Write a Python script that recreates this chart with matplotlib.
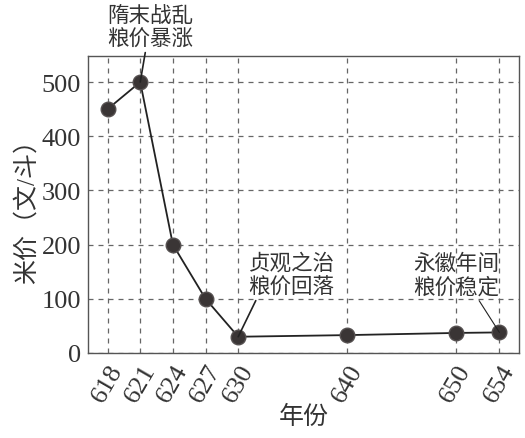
import matplotlib
matplotlib.use('Agg')
from matplotlib import pyplot as plt

years = [618, 621, 624, 627, 630, 640, 650, 654]
prices = [450, 500, 200, 100, 30, 33, 37, 38]
yticks = [0, 100, 200, 300, 400, 500]

plt.rcParams['font.family'] = ['Liberation Serif', 'Noto Sans CJK SC']

fig = plt.figure(figsize=(5.25, 4.39), dpi=100)
ax = fig.add_axes([88 / 525, 1 - 354 / 439, (519 - 88) / 525, (354 - 57) / 439])

ax.plot(years, prices, color='#222222', lw=1.3, marker='o', ms=10.5,
        markerfacecolor='#3a3535', markeredgecolor='#555050', zorder=3)

ax.set_xlim(616.2, 655.8)
ax.set_ylim(0, 548)
ax.set_xticks(years)
ax.set_xticklabels([str(y) for y in years], rotation=60, fontsize=19,
                   color='#333333')
ax.set_yticks(yticks)
ax.set_yticklabels([str(v) for v in yticks], fontsize=19, color='#333333')
ax.tick_params(length=0, pad=5)
ax.grid(True, ls=(0, (4, 4)), color='#666666', lw=0.9)
for s in ax.spines.values():
    s.set_color('#555555')
    s.set_linewidth(1.0)

ax.set_xlabel('年份', fontsize=18, color='#333333', labelpad=0)
ax.set_ylabel('米价（文/斗）', fontsize=18, color='#333333', labelpad=2)

txt = dict(fontsize=15.5, color='#333333', ha='center', va='center',
           linespacing=1.25)
ax.annotate('隋末战乱\n粮价暴涨', xy=(621, 500), xytext=(621.9, 600),
            annotation_clip=False,
            arrowprops=dict(arrowstyle='-', color='#222222', lw=1.2,
                            shrinkA=0, shrinkB=0, relpos=(0.45, 0)), **txt)
ax.annotate('贞观之治\n粮价回落', xy=(630, 30), xytext=(634.9, 143),
            arrowprops=dict(arrowstyle='-', color='#222222', lw=1.2,
                            shrinkA=0, shrinkB=0, relpos=(0.1, 0)), **txt)
ax.annotate('永徽年间\n粮价稳定', xy=(654, 38), xytext=(650.0, 143),
            arrowprops=dict(arrowstyle='-', color='#222222', lw=0.8,
                            shrinkA=0, shrinkB=0, relpos=(0.75, 0)), **txt)

fig.savefig('out.png', dpi=100)
